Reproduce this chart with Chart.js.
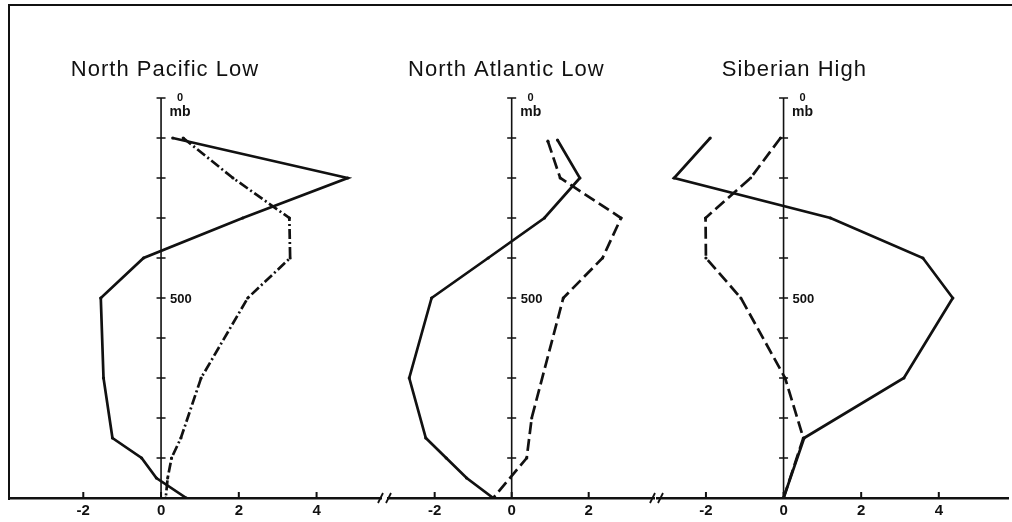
<!DOCTYPE html>
<html>
<head>
<meta charset="utf-8">
<script src="https://cdn.jsdelivr.net/npm/chart.js@4.4.1/dist/chart.umd.min.js"></script>
<style>
  html, body { margin: 0; padding: 0; background: #fff; }
  #figure { position: relative; width: 1012px; height: 522px; overflow: hidden; background: #fff; }
  #frame { position: absolute; left: 8px; top: 4px; width: 1010px; height: 494px;
           border-top: 2px solid #111; border-left: 2px solid #111; }
  canvas { position: absolute; top: 0; }
</style>
</head>
<body>
<div id="figure">
  <div id="frame"></div>
  <canvas id="pacific" width="385" height="524" style="left:0px"></canvas>
  <canvas id="atlantic" width="288" height="524" style="left:377px"></canvas>
  <canvas id="siberian" width="363" height="524" style="left:649px"></canvas>
</div>
<script>
// pressure levels (mb) marked on each vertical axis
const pressureTicks = [0, 100, 200, 300, 400, 500, 600, 700, 800, 900, 1000];
const pressureLabels = { 0: '0', 500: '500' };

// x tick labels per panel
const pacificTicks = [-2, 0, 2, 4];
const atlanticTicks = [-2, 0, 2];
const siberianTicks = [-2, 0, 2, 4];

// North Pacific Low
const pacificSolidP = [100, 200, 300, 400, 500, 700, 850, 900, 950, 1000];
const pacificSolidV = [0.30, 4.80, 2.10, -0.45, -1.55, -1.48, -1.25, -0.50, -0.12, 0.65];
const pacificDashP = [100, 200, 300, 400, 500, 700, 850, 900, 950, 1000];
const pacificDashV = [0.57, 1.85, 3.30, 3.32, 2.23, 1.03, 0.51, 0.27, 0.17, 0.12];

// North Atlantic Low
const atlanticSolidP = [105, 200, 300, 400, 500, 700, 850, 900, 950, 1000];
const atlanticSolidV = [1.19, 1.77, 0.85, -0.61, -2.08, -2.66, -2.23, -1.70, -1.17, -0.48];
const atlanticDashP = [108, 200, 300, 400, 500, 800, 900, 1000];
const atlanticDashV = [0.94, 1.26, 2.84, 2.36, 1.34, 0.52, 0.39, -0.48];

// Siberian High
const siberianSolidP = [100, 200, 300, 400, 500, 700, 850, 1000];
const siberianSolidV = [-1.89, -2.82, 1.21, 3.59, 4.36, 3.10, 0.53, 0];
const siberianDashP = [100, 200, 300, 400, 500, 700, 850, 1000];
const siberianDashV = [-0.08, -0.85, -2.01, -2.00, -1.10, 0.04, 0.51, 0];

const ink = '#111';
const fontFamily = '"Liberation Sans", Arial, sans-serif';

function points(vals, levels) {
    return levels.map((p, i) => ({ x: vals[i], y: p }));
}

// draws the pressure axis at x = 0, the upward x ticks, title and axis breaks
const profileAxis = {
    id: 'profileAxis',
    beforeDatasetsDraw(chart, args, opts) {
        const ctx = chart.ctx;
        const xs = chart.scales.x, ys = chart.scales.y;
        const x0 = xs.getPixelForValue(0);
        const bottom = chart.chartArea.bottom;
        ctx.save();
        ctx.strokeStyle = ink;
        ctx.fillStyle = ink;

        // vertical axis with crossing ticks
        ctx.lineWidth = 1.6;
        ctx.beginPath();
        ctx.moveTo(x0, ys.getPixelForValue(pressureTicks[0]));
        ctx.lineTo(x0, ys.getPixelForValue(pressureTicks[pressureTicks.length - 1]));
        pressureTicks.slice(0, -1).forEach(p => {
            const y = ys.getPixelForValue(p);
            ctx.moveTo(x0 - 4.5, y);
            ctx.lineTo(x0 + 4.5, y);
        });
        ctx.stroke();

        // axis labels
        const yTop = ys.getPixelForValue(0);
        ctx.textBaseline = 'middle';
        ctx.textAlign = 'center';
        ctx.font = 'bold 11px ' + fontFamily;
        ctx.fillText(pressureLabels[0], x0 + 19, yTop);
        ctx.font = 'bold 14px ' + fontFamily;
        ctx.fillText('mb', x0 + 19, yTop + 14);
        ctx.textAlign = 'left';
        ctx.font = 'bold 13px ' + fontFamily;
        ctx.fillText(pressureLabels[500], x0 + 9, ys.getPixelForValue(500) + 1);

        // x ticks point up into the plot
        ctx.lineWidth = 2;
        ctx.beginPath();
        opts.xTicks.forEach(v => {
            const x = xs.getPixelForValue(v);
            ctx.moveTo(x, bottom);
            ctx.lineTo(x, bottom - 6);
        });
        ctx.stroke();

        // panel title
        ctx.font = '22px ' + fontFamily;
        ctx.letterSpacing = '1px';
        ctx.textBaseline = 'alphabetic';
        ctx.textAlign = 'left';
        ctx.fillText(opts.title, xs.getPixelForValue(opts.titleAt), 76);
        ctx.restore();
    },
    afterDraw(chart, args, opts) {
        if (!opts.breaks) return;
        const ctx = chart.ctx;
        const y = chart.chartArea.bottom;
        ctx.save();
        ctx.strokeStyle = ink;
        ctx.lineWidth = 1.8;
        [chart.chartArea.left, chart.chartArea.right].forEach(x => {
            ctx.fillStyle = '#fff';
            ctx.fillRect(x - 2, y - 2, 4, 4);
            ctx.beginPath();
            ctx.moveTo(x - 7, y + 5); ctx.lineTo(x - 2, y - 5);
            ctx.moveTo(x + 1, y + 5); ctx.lineTo(x + 6, y - 5);
            ctx.stroke();
        });
        ctx.restore();
    }
};

function makePanel(id, cfg) {
    const line = (data, dash) => ({
        data: data,
        borderColor: ink,
        borderWidth: 2.7,
        borderDash: dash,
        pointRadius: 1.6,
        pointBackgroundColor: ink,
        pointBorderWidth: 0,
        tension: 0,
        fill: false
    });
    return new Chart(document.getElementById(id), {
        type: 'line',
        data: {
            datasets: [
                line(cfg.solid, []),
                line(cfg.dash, cfg.dashPattern)
            ]
        },
        options: {
            responsive: false,
            animation: false,
            devicePixelRatio: 1,
            events: [],
            layout: { padding: { top: 98, bottom: 0, left: cfg.padL, right: cfg.padR } },
            plugins: {
                legend: { display: false },
                tooltip: { enabled: false },
                profileAxis: { title: cfg.title, titleAt: cfg.titleAt, xTicks: cfg.xTicks, breaks: cfg.breaks }
            },
            scales: {
                x: {
                    type: 'linear',
                    min: cfg.min,
                    max: cfg.max,
                    afterBuildTicks: s => { s.ticks = cfg.xTicks.map(v => ({ value: v })); },
                    grid: { drawOnChartArea: false, drawTicks: false },
                    border: { color: ink, width: 2.5 },
                    ticks: { color: ink, padding: 4, font: { family: fontFamily, size: 15, weight: 'bold' } }
                },
                y: { type: 'linear', display: false, reverse: true, min: 0, max: 1000 }
            }
        },
        plugins: [profileAxis]
    });
}

makePanel('pacific', {
    title: 'North Pacific Low', titleAt: -2.32,
    solid: points(pacificSolidV, pacificSolidP), dash: points(pacificDashV, pacificDashP),
    dashPattern: [10, 3, 2, 3],
    xTicks: pacificTicks, min: -3.885, max: 5.657, padL: 10, padR: 0, breaks: false
});
makePanel('atlantic', {
    title: 'North Atlantic Low', titleAt: -2.69,
    solid: points(atlanticSolidV, atlanticSolidP), dash: points(atlanticDashV, atlanticDashP),
    dashPattern: [12, 5],
    xTicks: atlanticTicks, min: -3.29, max: 3.774, padL: 8, padR: 8, breaks: true
});
makePanel('siberian', {
    title: 'Siberian High', titleAt: -1.59,
    solid: points(siberianSolidV, siberianSolidP), dash: points(siberianDashV, siberianDashP),
    dashPattern: [12, 5],
    xTicks: siberianTicks, min: -3.261, max: 5.783, padL: 8, padR: 0, breaks: false
});
</script>
</body>
</html>
